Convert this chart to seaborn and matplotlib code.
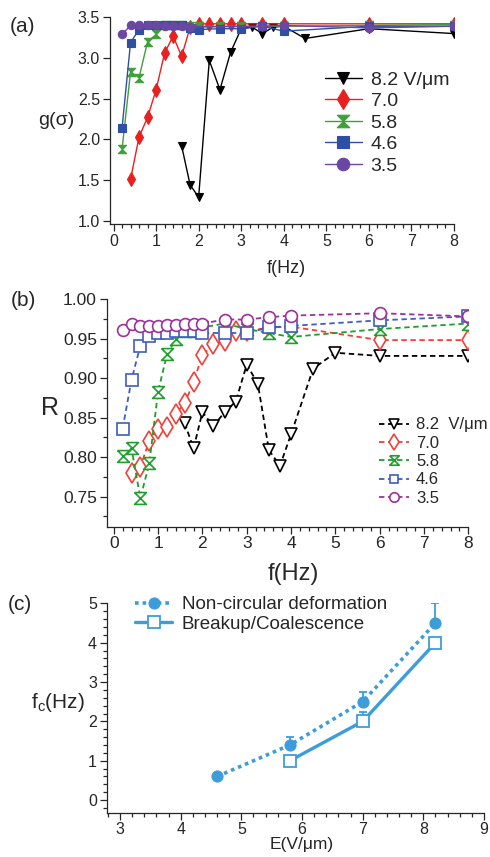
import numpy as np
import pandas as pd
import matplotlib
matplotlib.use("Agg")
import matplotlib.pyplot as plt
from matplotlib.ticker import MultipleLocator, FormatStrFormatter
import seaborn as sns

sns.set_style("ticks")
plt.rcParams['font.family'] = ['Liberation Sans', 'DejaVu Sans']
plt.rcParams['mathtext.fontset'] = 'custom'
plt.rcParams['mathtext.rm'] = 'Liberation Sans'

# ---------------- data ----------------
fields = ["8.2", "7.0", "5.8", "4.6", "3.5"]

# panel (a): g(sigma) vs f
f_a_82 = [1.6, 1.8, 2.0, 2.25, 2.5, 2.75, 3.0, 3.25, 3.5, 3.75, 4.0, 4.5, 6, 8]
g_82 = [1.92, 1.44, 1.29, 2.97, 2.61, 3.07, 3.36, 3.38, 3.30, 3.38, 3.39, 3.24, 3.36, 3.30]
f_a_70 = [0.4, 0.6, 0.8, 1.0, 1.2, 1.4, 1.6, 1.8, 2.0, 2.25, 2.5, 2.75, 3.0, 3.5, 4.0, 6, 8]
g_70 = [1.51, 2.03, 2.27, 2.61, 3.06, 3.27, 3.02, 3.38, 3.42, 3.42, 3.42, 3.42, 3.42, 3.42, 3.42, 3.42, 3.42]
f_a_58 = [0.2, 0.4, 0.6, 0.8, 1.0, 1.2, 1.4, 1.6, 1.8, 2.0, 2.5, 3.0, 3.5, 4.0, 6, 8]
g_58 = [1.88, 2.83, 2.76, 3.20, 3.29, 3.40, 3.40, 3.40, 3.39, 3.39, 3.39, 3.39, 3.39, 3.39, 3.40, 3.41]
f_a_46 = [0.2, 0.4, 0.6, 0.8, 1.0, 1.2, 1.4, 1.6, 1.8, 2.0, 2.5, 3.0, 3.5, 4.0, 6, 8]
g_46 = [2.14, 3.19, 3.35, 3.40, 3.40, 3.40, 3.40, 3.40, 3.37, 3.35, 3.36, 3.36, 3.39, 3.33, 3.39, 3.39]
f_a_35 = [0.2, 0.4, 0.6, 0.8, 1.0, 1.2, 1.4, 1.6, 1.8, 3.5, 4.0, 6, 8]
g_35 = [3.29, 3.40, 3.40, 3.40, 3.40, 3.39, 3.39, 3.39, 3.38, 3.39, 3.40, 3.37, 3.39]

# panel (b): R vs f
f_b_82 = [1.6, 1.8, 2.0, 2.25, 2.5, 2.75, 3.0, 3.25, 3.5, 3.75, 4.0, 4.5, 5, 6, 8]
R_82 = [0.843, 0.811, 0.857, 0.839, 0.857, 0.870, 0.917, 0.893, 0.809, 0.789, 0.829, 0.912, 0.932, 0.928, 0.928]
f_b_70 = [0.4, 0.6, 0.8, 1.0, 1.2, 1.4, 1.6, 1.8, 2.0, 2.25, 2.5, 2.75, 3.0, 3.5, 4.0, 6, 8]
R_70 = [0.780, 0.788, 0.820, 0.836, 0.838, 0.855, 0.868, 0.895, 0.929, 0.943, 0.947, 0.959, 0.959, 0.964, 0.965, 0.948, 0.948]
f_b_low = [0.2, 0.4, 0.6, 0.8, 1.0, 1.2, 1.4, 1.6, 1.8, 2.0, 2.5, 3.0, 3.5, 4.0, 6, 8]
R_58 = [0.802, 0.811, 0.748, 0.792, 0.883, 0.930, 0.949, 0.959, 0.959, 0.964, 0.969, 0.962, 0.957, 0.952, 0.962, 0.969]
R_46 = [0.836, 0.898, 0.941, 0.953, 0.957, 0.957, 0.960, 0.960, 0.959, 0.957, 0.957, 0.957, 0.964, 0.966, 0.973, 0.978]
R_35 = [0.961, 0.968, 0.966, 0.966, 0.966, 0.967, 0.967, 0.968, 0.968, 0.969, 0.974, 0.974, 0.977, 0.979, 0.982, 0.978]

# panel (c): critical frequency vs field
E_nc = [4.6, 5.8, 7.0, 8.2]
fc_nc = [0.6, 1.4, 2.5, 4.5]
fc_nc_err = [0.0, 0.2, 0.25, 0.5]
E_bc = [5.8, 7.0, 8.2]
fc_bc = [1.0, 2.0, 4.0]
fc_bc_err = [0.0, 0.25, 0.0]

# ---------------- styles ----------------
hourglass = [(-1, 1), (1, 1), (0, 0), (1, -1), (-1, -1), (0, 0), (-1, 1)]
cols_a = ["black", "#e8201f", "#3f9f3a", "#2e4fa3", "#6a47a3"]
cols_b = ["black", "#f0403a", "#1e9e2a", "#3d5ec0", "#a0309a"]
markers = ["v", "d", hourglass, "s", "o"]
ms_a = [6, 7, 6, 5.5, 6]
ms_b = [9, 10, 8.5, 8, 8.5]

fig = plt.figure(figsize=(4.9, 8.57), dpi=100)
W, H = 490, 857


def add_ax(l, r, t, b):
    return fig.add_axes([l / W, 1 - b / H, (r - l) / W, (b - t) / H])


def style_ax(ax, fs):
    sns.despine(ax=ax)
    ax.tick_params(which='major', direction='out', length=5, width=0.9, labelsize=fs, pad=2)
    ax.tick_params(which='minor', direction='out', length=3, width=0.9)
    for s in ['left', 'bottom']:
        ax.spines[s].set_linewidth(0.9)


# ---- panel (a)
ax1 = add_ax(109.7, 454, 17.3, 224)
fa = [f_a_82, f_a_70, f_a_58, f_a_46, f_a_35]
ga = [g_82, g_70, g_58, g_46, g_35]
labels_a = ["8.2 V/\u03bcm", "7.0", "5.8", "4.6", "3.5"]
for i in range(5):
    df = pd.DataFrame({"f": fa[i], "g": ga[i]})
    sns.lineplot(data=df, x="f", y="g", ax=ax1, color=cols_a[i], marker=markers[i],
                 markersize=ms_a[i], markeredgecolor=cols_a[i], markerfacecolor=cols_a[i],
                 markeredgewidth=0.8, linewidth=1.0, label=labels_a[i], legend=False)
ax1.set_xlim(-0.09, 8)
ax1.set_ylim(0.96, 3.5)
ax1.xaxis.set_major_locator(MultipleLocator(1))
ax1.xaxis.set_minor_locator(MultipleLocator(0.2))
ax1.yaxis.set_major_locator(MultipleLocator(0.5))
ax1.yaxis.set_major_formatter(FormatStrFormatter('%.1f'))
style_ax(ax1, 11.5)
ax1.set_xlabel("f(Hz)", fontsize=13, labelpad=0)
ax1.xaxis.set_label_coords(0.512, -0.175)
ax1.set_ylabel("g(\u03c3)", fontsize=14, rotation=0, va='center', ha='center')
ax1.yaxis.set_label_coords(-0.156, 0.503)
ax1.legend(loc='upper left', bbox_to_anchor=(0.625, 0.74), frameon=False, fontsize=14,
           handlelength=1.9, handletextpad=0.45, labelspacing=0.2, borderpad=0,
           markerscale=1.5, borderaxespad=0)

# ---- panel (b)
ax2 = add_ax(106.7, 468.3, 299, 526.7)
fb = [f_b_82, f_b_70, f_b_low, f_b_low, f_b_low]
Rb = [R_82, R_70, R_58, R_46, R_35]
labels_b = ["8.2  V/\u03bcm", "7.0", "5.8", "4.6", "3.5"]
for i in range(5):
    df = pd.DataFrame({"f": fb[i], "R": Rb[i]})
    sns.lineplot(data=df, x="f", y="R", ax=ax2, color=cols_b[i], marker=markers[i],
                 markersize=ms_b[i], markeredgecolor=cols_b[i], markerfacecolor='white',
                 markeredgewidth=1.2, linewidth=1.3, linestyle=(0, (3, 2)),
                 label=labels_b[i], legend=False)
ax2.set_xlim(-0.16, 8)
ax2.set_ylim(0.712, 1.0)
ax2.xaxis.set_major_locator(MultipleLocator(1))
ax2.xaxis.set_minor_locator(MultipleLocator(0.2))
ax2.yaxis.set_major_locator(MultipleLocator(0.05))
ax2.yaxis.set_minor_locator(MultipleLocator(0.025))
ax2.yaxis.set_major_formatter(FormatStrFormatter('%.2f'))
style_ax(ax2, 12.5)
ax2.set_xlabel("f(Hz)", fontsize=17, labelpad=0)
ax2.xaxis.set_label_coords(0.515, -0.16)
ax2.set_ylabel("R", fontsize=18, rotation=0, va='center', ha='center')
ax2.yaxis.set_label_coords(-0.157, 0.521)
ax2.legend(loc='upper left', bbox_to_anchor=(0.752, 0.48), frameon=False, fontsize=12,
           handlelength=1.8, handletextpad=0.45, labelspacing=0.2, borderpad=0,
           markerscale=0.8, borderaxespad=0)

# ---- panel (c)
ax3 = add_ax(106.7, 484, 603.3, 812.7)
cblue = "#3d9ddb"
df_nc = pd.DataFrame({"E": E_nc, "fc": fc_nc})
df_bc = pd.DataFrame({"E": E_bc, "fc": fc_bc})
ax3.errorbar(E_nc, fc_nc, yerr=[np.zeros(len(fc_nc_err)), fc_nc_err], fmt='none',
             ecolor=cblue, elinewidth=1.3, capsize=3, capthick=1.3)
ax3.errorbar(E_bc, fc_bc, yerr=[np.zeros(len(fc_bc_err)), fc_bc_err], fmt='none',
             ecolor=cblue, elinewidth=1.3, capsize=3, capthick=1.3)
sns.lineplot(data=df_nc, x="E", y="fc", ax=ax3, color=cblue, marker='o', markersize=8,
             markeredgecolor=cblue, markerfacecolor=cblue, linewidth=2.6,
             linestyle=(0, (1, 1.1)), label="Non-circular deformation", legend=False)
sns.lineplot(data=df_bc, x="E", y="fc", ax=ax3, color=cblue, marker='s', markersize=8,
             markeredgecolor=cblue, markerfacecolor='white', markeredgewidth=1.3,
             linewidth=2.4, label="Breakup/Coalescence", legend=False)
ax3.set_xlim(2.78, 9)
ax3.set_ylim(-0.32, 5)
ax3.xaxis.set_major_locator(MultipleLocator(1))
ax3.xaxis.set_minor_locator(MultipleLocator(0.2))
ax3.yaxis.set_major_locator(MultipleLocator(1))
ax3.yaxis.set_minor_locator(MultipleLocator(0.2))
style_ax(ax3, 11.5)
ax3.set_xlabel("E(V/\u03bcm)", fontsize=12.5, labelpad=0)
ax3.xaxis.set_label_coords(0.518, -0.118)
ax3.set_ylabel(r"f$_\mathregular{c}$(Hz)", fontsize=15, rotation=0, va='center', ha='center')
ax3.yaxis.set_label_coords(-0.129, 0.524)
ax3.legend(loc='upper left', bbox_to_anchor=(0.075, 1.035), frameon=False, fontsize=13.5,
           handlelength=2.0, handletextpad=0.5, labelspacing=0.15, borderpad=0,
           borderaxespad=0)

# panel labels
fig.text(10 / W, 1 - 27 / H, "(a)", fontsize=15, va='center', ha='left')
fig.text(11 / W, 1 - 300 / H, "(b)", fontsize=15, va='center', ha='left')
fig.text(8 / W, 1 - 604 / H, "(c)", fontsize=15, va='center', ha='left')

fig.savefig("out.png", dpi=100)
